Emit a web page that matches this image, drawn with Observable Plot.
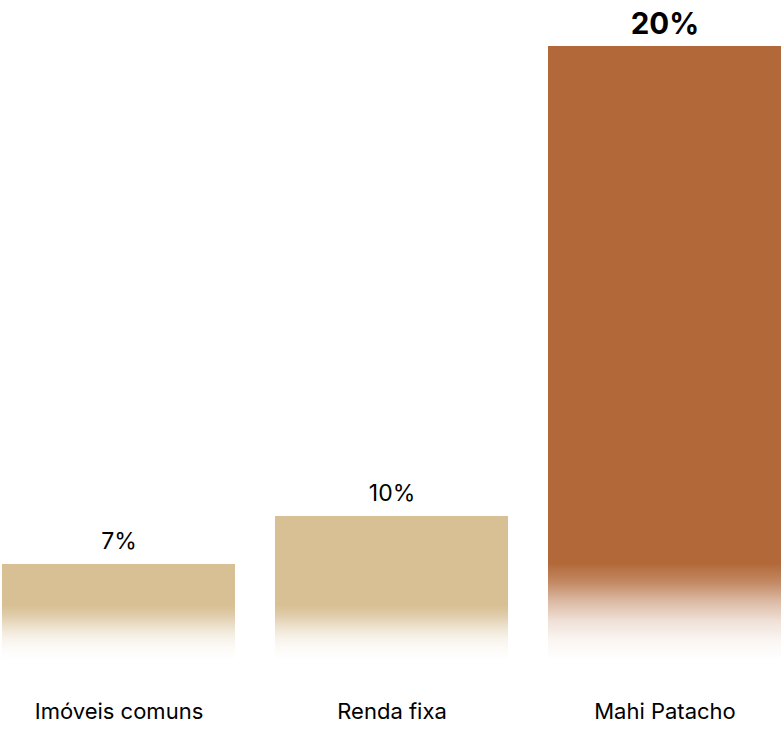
<!DOCTYPE html>
<html>
<head>
<meta charset="utf-8">
<script src="https://cdn.jsdelivr.net/npm/d3@7"></script>
<script src="https://cdn.jsdelivr.net/npm/@observablehq/plot@0.6"></script>
<style>
  html, body { margin: 0; padding: 0; background: #fff; }
  #chart svg { display: block; font-family: Inter, "Noto Sans", sans-serif; }
</style>
</head>
<body>
<div id="chart"></div>
<script>
// ---- data ----
const categories = ["Imóveis comuns", "Renda fixa", "Mahi Patacho"];
const returns = [7, 10, 20];
const highlight = "Mahi Patacho";

// ---- styles ----
const W = 781, H = 729;
const margin = {top: 0, right: 0, bottom: 69, left: 2};
const tan = "#d8bf94", brown = "#b26838";
const fadeLen = {normal: 55, highlight: 97};

const data = categories.map((c, i) => ({category: c, value: returns[i], hi: c === highlight}));
const baseY = H - margin.bottom;

const plot = Plot.plot({
  width: W,
  height: H,
  marginTop: margin.top,
  marginRight: margin.right,
  marginBottom: margin.bottom,
  marginLeft: margin.left,
  x: {type: "band", domain: categories, paddingInner: 0.147, paddingOuter: 0},
  // the reference's bar heights are not proportional: a piecewise linear scale
  y: {type: "linear", domain: [0, 7, 10, 20], range: [baseY, 564, 516, 46], axis: null},
  color: {type: "identity"},
  marks: [
    Plot.barY(data, {x: "category", y: "value", fill: d => d.hi ? "url(#fade-hi)" : "url(#fade-lo)"}),
    Plot.text(data.filter(d => !d.hi), {x: "category", y: "value", text: d => `${d.value}%`,
      fontSize: 23, lineAnchor: "bottom", dy: -16, fill: "#000"}),
    Plot.text(data.filter(d => d.hi), {x: "category", y: "value", text: d => `${d.value}%`,
      fontSize: 29.5, fontWeight: 700, lineAnchor: "bottom", dy: -13, fill: "#000"}),
    Plot.axisX({tickSize: 0, tickPadding: 43, fontSize: 22, label: null, fill: "#000"})
  ]
});

// gradient fades computed from the y scale baseline
const y0 = plot.scale("y").apply(0);
const svg = d3.select(plot);
const defs = svg.insert("defs", ":first-child");
const stops = [[0, 1], [0.2, 0.78], [0.4, 0.45], [0.6, 0.2], [0.8, 0.06], [1, 0]];
[["fade-lo", tan, fadeLen.normal], ["fade-hi", brown, fadeLen.highlight]].forEach(([id, col, len]) => {
  const g = defs.append("linearGradient").attr("id", id)
    .attr("gradientUnits", "userSpaceOnUse")
    .attr("x1", 0).attr("x2", 0).attr("y1", y0 - len).attr("y2", y0);
  stops.forEach(([o, a]) => g.append("stop").attr("offset", o).attr("stop-color", col).attr("stop-opacity", a));
});

document.getElementById("chart").appendChild(plot);
</script>
</body>
</html>
